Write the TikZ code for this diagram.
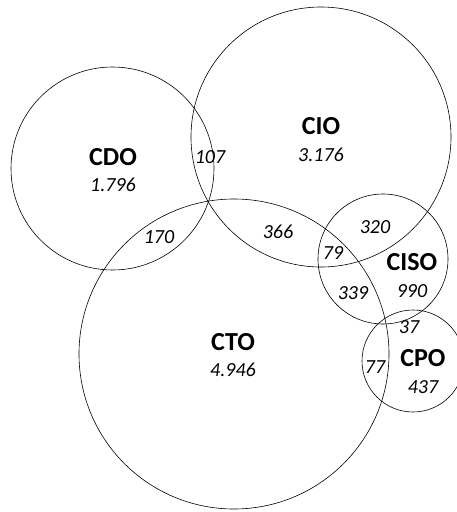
\documentclass[tikz,border=0pt]{standalone}
\usepackage{fontspec}
\setmainfont{Carlito}

\begin{document}
\begin{tikzpicture}[%
      x=1pt, y=-1pt,
      set/.style={draw=black, line width=0.6pt},
      role/.style={font=\bfseries\fontsize{26}{30}\selectfont},
      size/.style={font=\itshape\fontsize{20}{24}\selectfont},
      ]
      \useasboundingbox (0,0) rectangle (457,512);
      \clip (0,0) rectangle (457,512);

      \draw [set] (112.5,168.5) circle (101.5pt);
      \draw [set] (321,137) circle (130pt);
      \draw [set] (234,354) circle (155pt);
      \draw [set] (383,259) circle (65pt);
      \draw [set] (413,361) circle (51pt);

      \node [role] (cdo) at (113,157) {CDO};
      \node [size] (cdoN) at (113,185) {1.796};
      \node [role] (cio) at (321,126) {CIO};
      \node [size] (cioN) at (321,155) {3.176};
      \node [role] (cto) at (233,342) {CTO};
      \node [size] (ctoN) at (233,370) {4.946};
      \node [role] (ciso) at (412,262) {CISO};
      \node [size] (cisoN) at (412,291) {990};
      \node [role] (cpo) at (423,358) {CPO};
      \node [size] (cpoN) at (423,387) {437};

      \node [size] (cdoCio) at (210,157) {107};
      \node [size] (cdoCto) at (159,237) {170};
      \node [size] (cioCto) at (278,232) {366};
      \node [size] (cioCiso) at (375,227) {320};
      \node [size] (allThree) at (333,253) {79};
      \node [size] (ctoCiso) at (353,293) {339};
      \node [size] (cisoCpo) at (409,327) {37};
      \node [size] (ctoCpo) at (375,367) {77};
      \end{tikzpicture}
\end{document}
